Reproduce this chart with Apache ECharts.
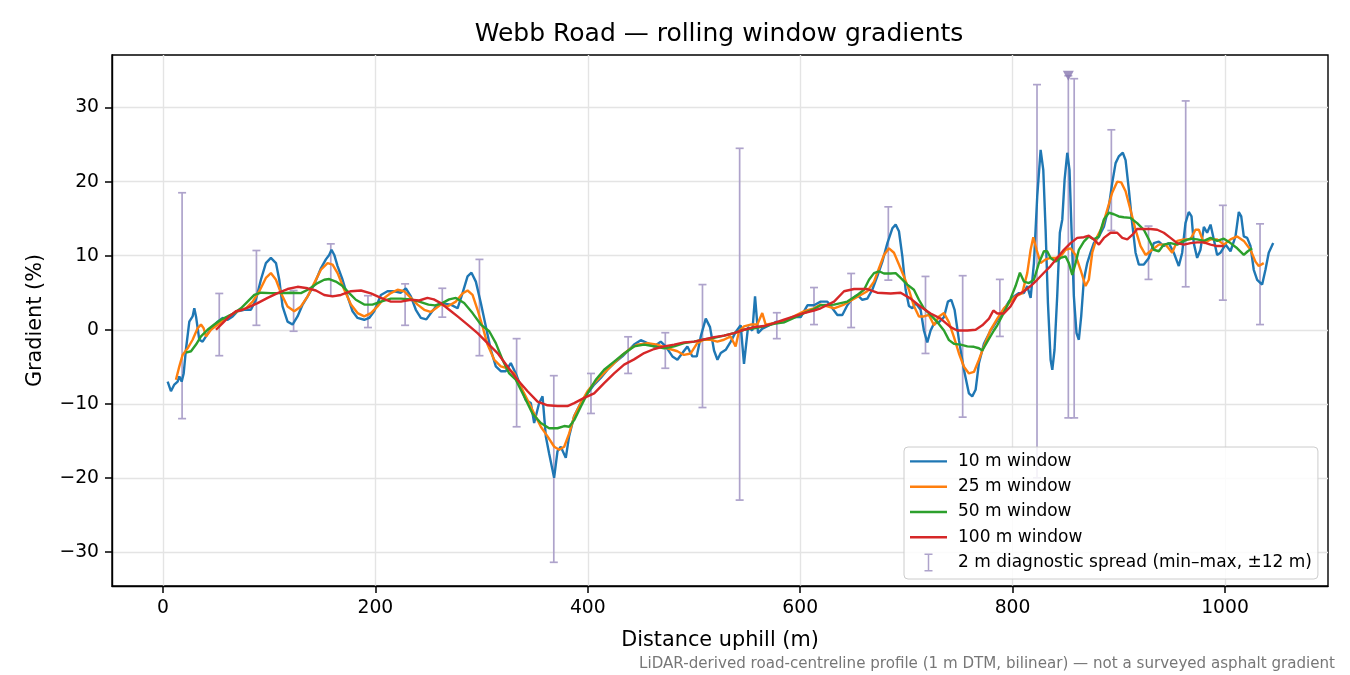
<!DOCTYPE html>
<html>
<head>
<meta charset="utf-8">
<script src="https://cdn.jsdelivr.net/npm/echarts@6/dist/echarts.min.js"></script>
<style>
html,body{margin:0;padding:0;background:#fff;}
#chart{width:1350px;height:675px;}
</style>
</head>
<body>
<div id="chart"></div>
<script>
// ---- data (distance m, gradient %) ----
const win10 = [[4.4,-7.0],[7.5,-8.3],[10.7,-7.4],[13.8,-7.0],[15.4,-6.3],[17.6,-7.0],[19.5,-5.9],[21.6,-2.7],[24.8,1.1],[27.9,1.8],[29.5,2.9],[31.1,1.8],[34.2,-1.35],[37.3,-1.6],[40.5,-0.9],[45.2,0.2],[51.5,1.1],[56.2,1.6],[60.9,1.35],[65.6,1.8],[70.3,2.5],[76.5,2.7],[82.8,2.7],[87.5,4.05],[92.2,6.75],[96.9,9.0],[101.6,9.7],[106.4,9.0],[109.5,6.75],[112.6,3.15],[117.3,1.1],[122,0.7],[126.7,1.8],[131.5,3.4],[136.2,4.5],[142.4,6.1],[148.7,8.3],[153.4,9.5],[156.5,10.1],[158.7,10.8],[161.3,10.1],[164.4,8.6],[169.1,6.75],[173.8,4.5],[178.5,2.5],[183.2,1.6],[189.5,1.35],[194.2,1.6],[198.9,2.5],[205.2,4.7],[211.4,5.2],[217.7,5.2],[224,5.0],[228.7,5.6],[233.4,4.5],[238.1,2.7],[242.8,1.6],[248,1.4],[253,2.4],[258,3.3],[261.6,3.6],[271,3.4],[277.4,2.9],[282,4.9],[286.8,7.2],[290.5,7.7],[294.6,6.5],[299.3,3.6],[304,0.45],[308.7,-2.7],[313.4,-4.95],[318.1,-5.6],[322.8,-5.6],[327.5,-4.5],[332.2,-5.9],[337,-7.7],[341.6,-9.5],[346.4,-9.9],[349.5,-12.6],[354.2,-9.9],[357.4,-9.0],[360.5,-14.4],[363.6,-16.7],[368.3,-20.0],[371.5,-16.4],[374.6,-15.8],[379.3,-17.3],[382.4,-14.4],[387.1,-11.7],[393.4,-9.9],[399.7,-8.6],[406,-7.4],[412.2,-6.5],[418.5,-5.4],[424.8,-4.5],[432.6,-3.6],[438.9,-2.7],[443.6,-2.0],[449.9,-1.4],[456.2,-1.8],[462.4,-2.25],[468.7,-1.6],[473.4,-2.25],[479.7,-3.6],[484.4,-4.05],[489.1,-3.15],[493.8,-2.25],[498.5,-3.6],[502.6,-3.6],[506.4,-0.9],[511.1,1.5],[515.1,0.36],[518.9,-2.8],[522.1,-4.05],[525.2,-3.15],[529.9,-2.7],[534.6,-1.6],[539.3,-0.3],[544,0.6],[547.1,-4.6],[550.9,0.36],[555,-0.1],[557.5,4.5],[560.3,-0.45],[564.4,0.14],[570.6,0.6],[576.9,1.04],[584.8,1.04],[592.6,1.7],[600.5,1.7],[606.8,3.3],[613,3.3],[619.3,3.8],[625.6,3.8],[630.3,2.9],[635,2.0],[639.7,2.0],[644.4,3.3],[649.1,4.2],[653.8,4.7],[658.5,4.05],[663.2,4.2],[667.9,5.4],[672.6,7.2],[677.4,9.2],[682.1,11.7],[686.8,13.7],[689.9,14.2],[693,13.3],[696.2,9.9],[699.3,5.4],[702.4,3.2],[705.6,2.9],[708.7,3.6],[713.4,2.7],[716.5,-0.1],[719.7,-1.7],[722.8,-0.1],[725.9,0.8],[730.7,1.04],[735.4,1.7],[739.1,3.8],[742.3,4.05],[745.4,2.7],[749.5,-1.4],[754.2,-5.4],[758.9,-8.6],[762,-9.0],[765.2,-8.1],[768.3,-4.5],[773,-1.9],[779.3,-0.1],[785.6,1.26],[791.8,2.7],[796.5,3.8],[801.3,4.5],[806,4.95],[810.7,4.95],[813.8,5.9],[817,4.3],[820.1,9.0],[823.2,18.0],[826.4,24.3],[828.9,21.6],[831.1,13.5],[833.3,3.6],[835.8,-4.05],[837.4,-5.4],[839.5,-2.7],[842,4.5],[844.5,13.1],[846.8,14.9],[849,20.3],[851.5,23.9],[853.6,21.6],[855.5,13.5],[857.7,4.5],[860.2,-0.45],[862.4,-1.35],[864.6,1.8],[867.1,6.75],[870.3,9.0],[873.4,10.4],[876.5,11.7],[881.3,12.6],[886,13.9],[890.6,16.6],[893.8,19.8],[897,22.5],[900,23.4],[903.8,23.9],[906.4,22.9],[909.5,18.9],[912.6,14.4],[915.8,10.4],[918.9,8.8],[923.6,8.8],[928.3,9.7],[933,11.7],[937.7,11.9],[942.4,11.3],[947.1,11.7],[951.8,10.4],[956.5,8.6],[959.7,10.4],[962.8,14.4],[965.9,15.9],[968.5,15.3],[970.6,11.7],[973.8,9.7],[976.9,10.8],[980.1,13.9],[983.2,13.1],[986.4,14.2],[989.5,12.2],[992.6,10.1],[995.8,10.4],[1000.5,11.5],[1005.2,10.6],[1009.9,12.6],[1013,15.9],[1015.3,15.3],[1017.7,12.6],[1020.9,12.4],[1024,11.3],[1027.1,8.1],[1030.3,6.75],[1035,6.1],[1038.1,8.1],[1041.2,10.4],[1045.4,11.7]];

const win25 = [[12.2,-6.75],[15.4,-4.95],[18.5,-3.4],[23.2,-2.5],[27.9,-1.35],[32.6,0.2],[35.8,0.7],[38.3,0.2],[40.5,-0.9],[45.2,0],[51.5,0.7],[57.7,1.35],[64,2.0],[70.3,2.5],[78.1,2.9],[84.4,3.8],[90.7,5.2],[96.9,7.0],[101.6,7.65],[106.4,6.75],[111.1,4.95],[117.3,3.15],[123.6,2.5],[129.9,3.15],[136.2,4.5],[142.4,6.3],[148.7,8.1],[155,9.0],[159.7,8.8],[164.4,7.65],[170.7,5.4],[177,3.4],[183.2,2.25],[189.5,1.8],[195.8,2.25],[202,3.15],[208.3,4.3],[214.6,4.95],[220.9,5.4],[227.1,5.2],[233.4,4.3],[239.7,3.4],[246,2.7],[252,2.4],[257,2.9],[261.6,3.4],[267.9,3.15],[275.8,3.8],[282,4.9],[286.8,5.3],[291.5,4.7],[296.2,2.7],[300.9,0.45],[305.6,-2.0],[311.9,-4.05],[318.1,-4.95],[324.4,-5.2],[330.7,-5.9],[337,-7.7],[343.3,-9.5],[349.5,-11.3],[355.8,-13.1],[362.1,-14.4],[368.4,-15.8],[373.1,-16.2],[377.8,-15.8],[382.5,-14],[387.2,-11.7],[393.4,-9.9],[399.7,-8.3],[406,-7.2],[412.2,-6.3],[418.5,-5.4],[424.8,-4.5],[432.6,-3.4],[440.5,-2.5],[446.8,-2.0],[456.2,-1.8],[465.6,-2.0],[475,-2.5],[484.4,-2.9],[490.6,-3.4],[496.9,-3.2],[503.1,-1.8],[509.4,-1.35],[515.7,-1.35],[522,-1.6],[528.2,-1.35],[534.5,-0.9],[539.2,-2.25],[542.4,-0.2],[547.1,0.45],[553.3,0.7],[559.6,0.7],[564.3,2.25],[567.5,0.7],[575.3,0.9],[584.7,1.1],[594.1,1.8],[603.5,2.5],[612.9,2.9],[619.2,3.4],[625.6,3.15],[631.9,2.9],[641.3,3.4],[649.1,4.05],[657,4.7],[663.2,5.2],[669.5,6.5],[674.2,8.3],[678.9,10.1],[683.6,11.0],[688.3,10.4],[693,8.8],[697.7,7.2],[702.4,5.4],[707.1,3.2],[711.8,1.8],[716.5,1.8],[721.2,2.0],[726,0.6],[730.7,1.8],[735.4,2.25],[740.1,1.0],[744.8,-1.0],[749.5,-3.2],[754.2,-5.0],[758.9,-5.9],[763.6,-5.7],[768.3,-4.05],[773,-2.25],[779.3,0],[785.6,1.5],[791.8,2.9],[798.1,3.8],[802.8,4.5],[809.1,4.95],[813.8,7.65],[817,10.8],[819.5,12.5],[822.6,10.8],[826.4,9.0],[831.1,9.5],[835.8,9.7],[840.5,9.7],[845.2,9.9],[849.9,10.8],[854.6,11.0],[859.3,10.1],[864,8.1],[868.7,5.9],[871.8,6.75],[875,10.4],[879.7,12.6],[884.4,13.9],[889.1,16.2],[893.8,18.5],[898.5,20.0],[902.3,19.9],[906.4,18.7],[911,16.2],[915.8,13.5],[920.5,11.3],[925.2,10.1],[931.5,10.8],[937.7,11.5],[944,11.5],[950.3,10.4],[955,12.0],[961.3,12.2],[967.5,12.2],[972.2,13.5],[975.4,13.5],[980.1,11.7],[986.4,12.2],[992.6,12.2],[998.9,11.5],[1005.2,12.2],[1011.5,12.6],[1017.7,12.0],[1024,10.8],[1028.7,9.2],[1031.8,8.6],[1036.5,9.0]];

const win50 = [[21.6,-3.1],[26.4,-2.9],[31.1,-2.0],[35.8,-0.9],[42,0],[48.3,0.7],[54.6,1.35],[60.9,1.8],[67.1,2.25],[73.4,2.9],[79.7,3.8],[86,4.7],[92.2,5.0],[101.6,4.95],[111.1,4.95],[120.5,5.0],[129.9,4.95],[137.7,5.5],[145.6,6.3],[151.8,6.75],[156.5,6.85],[162.8,6.5],[169.1,5.9],[175.4,4.95],[181.6,4.05],[189.5,3.4],[197.3,3.4],[205.2,3.8],[214.6,4.2],[224,4.2],[233.4,4.1],[241.3,3.8],[250,3.4],[256,3.3],[261.6,3.5],[269.5,4.1],[275.8,4.3],[283.6,3.6],[291.5,2.25],[299.3,0.7],[307.2,-0.2],[313.4,-1.8],[319.7,-4.05],[326,-5.9],[332.2,-6.75],[340.1,-9.0],[347.9,-11.3],[355.8,-12.6],[363.6,-13.3],[371.5,-13.3],[377.8,-13.0],[382.5,-13.1],[387.2,-12.2],[393.4,-10.4],[399.7,-8.6],[407.5,-6.75],[415.4,-5.4],[424.8,-4.3],[434.2,-3.2],[443.6,-2.25],[453.1,-2.0],[462.4,-2.25],[471.9,-2.5],[481.3,-2.25],[490.7,-1.8],[500.1,-1.6],[509.5,-1.3],[518.9,-1.1],[528.3,-0.8],[537.7,-0.45],[547.1,0],[556.5,0.2],[565.9,0.45],[575.3,0.8],[584.7,1.0],[594.1,1.6],[603.5,2.25],[612.9,2.8],[619.3,3.3],[631.9,3.4],[644.4,3.8],[653.8,4.7],[660.1,5.4],[664.8,6.75],[669.5,7.65],[674.2,7.9],[678.9,7.6],[685.2,7.6],[689.9,7.65],[694.6,7.0],[700.9,6.1],[707.1,5.4],[711.8,4.05],[716.5,2.9],[722.8,2.0],[729.1,1.04],[735.4,-0.1],[740.1,-1.4],[744.8,-1.9],[751.1,-2.0],[757.4,-2.25],[763.6,-2.3],[768.3,-2.5],[771.5,-2.8],[776.2,-1.6],[782.4,-0.1],[785.6,0.6],[791.8,2.3],[798.1,4.2],[802.8,5.9],[806.9,7.7],[810.7,6.5],[815.4,6.3],[820.1,6.75],[824.8,9.0],[829.5,10.6],[832.6,10.6],[835.8,9.7],[840.5,9.2],[845.2,9.7],[849.9,9.9],[853,9.0],[856.2,7.4],[859.3,9.0],[862.4,10.8],[867.1,11.9],[871.8,12.6],[876.5,12.2],[881.3,12.6],[886,14.9],[890.7,15.8],[895.4,15.6],[900,15.3],[904.7,15.2],[911,15.1],[917.3,14.4],[923.6,13.5],[928.3,12.2],[933,10.8],[937.7,10.6],[942.4,11.5],[948.7,11.7],[955,11.5],[961.3,12.0],[967.5,12.3],[973.8,12.2],[980.1,12.0],[986.4,12.4],[992.6,12.0],[998.9,12.3],[1005.2,11.7],[1011.5,11.0],[1017.7,10.1],[1021.5,10.6],[1025.6,11.0]];

const win100 = [[49.9,0],[56.2,0.9],[62.4,1.8],[68.7,2.5],[75,2.7],[81.3,3.1],[89.1,3.6],[98.5,4.3],[107.9,4.95],[117.3,5.5],[126.7,5.8],[136.2,5.6],[144,5.3],[151.8,4.7],[159.7,4.5],[167.5,4.7],[177,5.2],[186.4,5.3],[195.8,4.9],[205.2,4.3],[214.6,3.8],[224,3.8],[233.4,4.05],[241.3,3.95],[249,4.3],[255,4.1],[261.6,3.6],[269.5,2.7],[277.4,1.8],[286.8,0.7],[296.2,-0.45],[305.6,-1.8],[315,-3.15],[324.4,-4.95],[333.8,-6.75],[343.3,-8.3],[352.7,-9.7],[362.1,-10.2],[371.5,-10.3],[380.9,-10.3],[387.2,-9.9],[396.6,-9.2],[406,-8.6],[415.4,-7.2],[424.8,-5.9],[434.2,-4.7],[443.6,-4.0],[453.1,-3.15],[462.5,-2.6],[471.9,-2.25],[481.3,-2.0],[490.7,-1.7],[500.1,-1.6],[509.5,-1.3],[518.9,-1.0],[528.3,-0.8],[537.7,-0.45],[547.1,0],[556.5,0.36],[565.9,0.5],[575.3,0.9],[584.7,1.35],[594.1,1.8],[603.5,2.25],[612.9,2.6],[619.3,2.9],[631.9,3.8],[641.3,5.2],[650.7,5.5],[663.2,5.5],[672.6,5.0],[685.2,4.9],[694.6,5.0],[704,4.2],[713.4,3.1],[722.8,2.2],[732.2,1.5],[741.6,0.36],[747.9,-0.1],[757.4,-0.1],[765.2,0],[771.5,0.6],[777.8,1.5],[781.9,2.6],[785.6,2.2],[791.8,2.2],[798.1,3.15],[804.4,4.7],[810.7,5.2],[817,5.9],[823.2,6.75],[829.5,7.7],[835.8,8.6],[842,9.7],[848.3,10.8],[854.6,11.7],[860.9,12.4],[867.1,12.5],[871.8,12.7],[876.5,12.2],[881.3,11.5],[886,12.4],[892.3,13.1],[898.5,13.1],[903.3,12.4],[908,12.2],[912.7,12.8],[917.3,13.6],[923.6,13.6],[929.9,13.6],[936.2,13.5],[942.4,13.1],[948.7,12.4],[955,11.7],[961.3,11.5],[967.5,11.7],[973.8,11.8],[980.1,11.8],[986.4,11.5],[992.6,11.3],[998.9,11.3]];

// 2 m diagnostic spread: [distance, min, max]
const spread2m = [[18,-12.0,18.5],[53,-3.5,4.9],[88,0.6,10.7],[123,-0.2,5.3],[158,4.6,11.6],[193,0.3,4.6],[228,0.6,6.2],[263,1.7,5.6],[298,-3.5,9.5],[333,-13.1,-1.2],[368,-31.4,-6.2],[403,-11.3,-5.9],[438,-5.9,-0.95],[473,-5.2,-0.4],[508,-10.5,6.1],[543,-23.0,24.5],[578,-1.2,2.3],[613,0.7,5.7],[648,0.3,7.6],[683,6.7,16.6],[718,-3.2,7.2],[753,-11.8,7.3],[788,-0.9,6.8],[823,-20.0,33.1],[852.5,-11.9,34.3],[858,-11.9,33.9],[893,13.4,27.0],[928,6.8,14.0],[963,5.8,30.9],[998,4.0,16.8],[1033,0.7,14.3]];
// spread maximum running off the top of the axis
const spreadClipped = [[852.5,34.3]];

const xTicks = [0,200,400,600,800,1000];
const yTicks = [-30,-20,-10,0,10,20,30];

const seriesNames = ['10 m window','25 m window','50 m window','100 m window','2 m diagnostic spread (min\u2013max, \u00b112 m)'];
const colors = ['#1f77b4','#ff7f0e','#2ca02c','#d62728'];
const spreadColor = '#aea3cb';
const FONT = 'DejaVu Sans';

const chart = echarts.init(document.getElementById('chart'), null, {renderer:'canvas'});

const lineSeries = [win10, win25, win50, win100].map((d, i) => ({
  name: seriesNames[i], type: 'line', data: d, showSymbol: false, symbol: 'none',
  lineStyle: {color: colors[i], width: 2.4}, itemStyle: {color: colors[i]},
  z: 3 + i, animation: false, clip: true
}));

const fmt = v => String(v).replace('-', '\u2212');
const lineIcon = 'path://M0,0H37V2.4H0Z';

chart.setOption({
  animation: false,
  backgroundColor: '#fff',
  title: [{
    text: 'Webb Road \u2014 rolling window gradients',
    left: 714, top: 17, textAlign: 'center',
    textStyle: {fontFamily: FONT, fontSize: 25, fontWeight: 'normal', color: '#000'}
  }, {
    text: 'LiDAR-derived road-centreline profile (1 m DTM, bilinear) \u2014 not a surveyed asphalt gradient',
    right: 10, top: 652,
    textStyle: {fontFamily: FONT, fontSize: 15.1, fontWeight: 'normal', color: '#777'}
  }],
  grid: {left: 112, right: 22, top: 55, bottom: 89, show: true, borderColor: '#000', borderWidth: 1.4, containLabel: false},
  legend: {
    orient: 'vertical', left: 904, top: 447,
    data: [
      {name: seriesNames[0], icon: lineIcon}, {name: seriesNames[1], icon: lineIcon},
      {name: seriesNames[2], icon: lineIcon}, {name: seriesNames[3], icon: lineIcon},
      {name: seriesNames[4], icon: 'path://M0,0H8V1.5H4.75V16.5H8V18H0V16.5H3.25V1.5H0Z'}
    ],
    itemWidth: 37, itemHeight: 18, itemGap: 6.5,
    padding: [5, 6, 7, 6],
    backgroundColor: 'rgba(255,255,255,0.85)', borderColor: '#cccccc', borderWidth: 1, borderRadius: 4,
    textStyle: {fontFamily: FONT, fontSize: 17, color: '#000', padding: [0, 0, 0, 6], lineHeight: 18.8},
    selectedMode: false
  },
  xAxis: {
    type: 'value', min: -48, max: 1097,
    name: 'Distance uphill (m)', nameLocation: 'middle', nameGap: 44,
    nameTextStyle: {fontFamily: FONT, fontSize: 20.8, color: '#000'},
    axisLine: {show: true, onZero: false, lineStyle: {color: '#000', width: 1.4}},
    axisTick: {show: true, length: 7, inside: false, customValues: xTicks, lineStyle: {color: '#000', width: 1.5}},
    axisLabel: {show: true, customValues: xTicks, margin: 13, formatter: fmt, fontFamily: FONT, fontSize: 18.75, color: '#000'},
    splitLine: {show: true, lineStyle: {color: '#e4e4e4', width: 1.4}}
  },
  yAxis: {
    type: 'value', min: -34.6, max: 37.1,
    name: 'Gradient (%)', nameLocation: 'middle', nameGap: 66, nameRotate: 90,
    nameTextStyle: {fontFamily: FONT, fontSize: 20.8, color: '#000'},
    axisLine: {show: true, onZero: false, lineStyle: {color: '#000', width: 1.4}},
    axisTick: {show: true, length: 7, inside: false, customValues: yTicks, lineStyle: {color: '#000', width: 1.5}},
    axisLabel: {show: true, customValues: yTicks, margin: 13, formatter: fmt, fontFamily: FONT, fontSize: 18.75, color: '#000'},
    splitLine: {show: true, lineStyle: {color: '#e4e4e4', width: 1.4}}
  },
  series: [
    {
      name: seriesNames[4], type: 'custom', data: spread2m, clip: true, z: 2,
      itemStyle: {color: spreadColor},
      encode: {x: 0, y: [1, 2]},
      renderItem: function (params, api) {
        const x = api.value(0), lo = api.value(1), hi = api.value(2);
        const pHi = api.coord([x, hi]);
        const pLo = api.coord([x, lo]);
        const hw = 4;
        const st = {stroke: spreadColor, lineWidth: 1.7};
        return {type: 'group', children: [
          {type: 'line', shape: {x1: pHi[0], y1: pHi[1], x2: pLo[0], y2: pLo[1]}, style: st},
          {type: 'line', shape: {x1: pHi[0] - hw, y1: pHi[1], x2: pHi[0] + hw, y2: pHi[1]}, style: st},
          {type: 'line', shape: {x1: pLo[0] - hw, y1: pLo[1], x2: pLo[0] + hw, y2: pLo[1]}, style: st}
        ]};
      }
    },
    ...lineSeries,
    {
      name: 'clipped', type: 'scatter', data: spreadClipped, symbol: 'triangle', symbolRotate: 180,
      symbolSize: [11, 10], itemStyle: {color: '#8878b0'}, z: 8, clip: false
    }
  ]
});
</script>
</body>
</html>
